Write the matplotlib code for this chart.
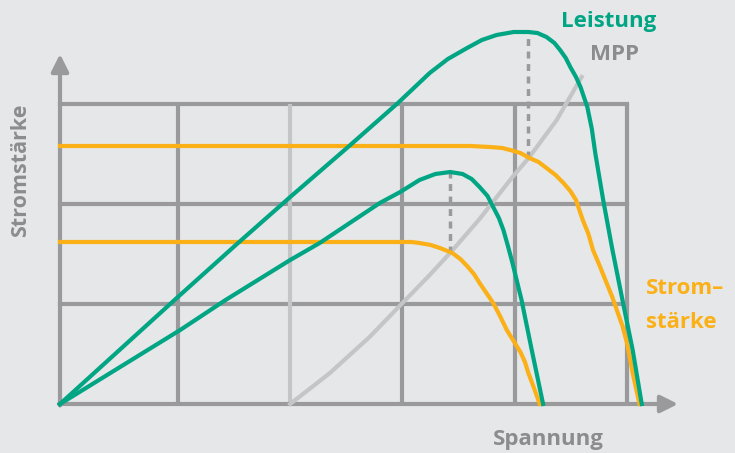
import matplotlib
matplotlib.use("Agg")
from matplotlib import pyplot as plt

# curves (x = Spannung, y = Stromstaerke / Leistung)
p1_x = [0, 1.01, 1.57, 2.03, 2.54, 2.98, 3.26, 3.42, 3.59, 3.72, 3.85, 4.00, 4.13, 4.21, 4.29, 4.36,
        4.41, 4.46, 4.50, 4.55, 4.59, 4.62, 4.65, 4.69, 4.72, 4.79, 4.87, 4.96, 5.05, 5.13]
p1_y = [0, 1.04, 1.61, 2.07, 2.57, 3.01, 3.31, 3.45, 3.56, 3.64, 3.69, 3.72, 3.72, 3.71, 3.67, 3.61,
        3.54, 3.46, 3.37, 3.27, 3.17, 3.07, 2.97, 2.75, 2.51, 2.04, 1.55, 1.04, 0.54, 0]

p2_x = [0, 1.06, 1.46, 2.03, 2.29, 2.82, 3.00, 3.17, 3.31, 3.44, 3.55, 3.63, 3.70, 3.77, 3.82,
        3.87, 3.91, 3.95, 3.99, 4.07, 4.16, 4.26]
p2_y = [0, 0.74, 1.04, 1.44, 1.61, 2.01, 2.12, 2.24, 2.30, 2.32, 2.30, 2.25, 2.17, 2.08, 1.97,
        1.86, 1.74, 1.58, 1.41, 1.04, 0.54, 0]

i1_x = [0, 3.62, 3.79, 3.90, 3.97, 4.06, 4.14, 4.22, 4.29, 4.37, 4.44, 4.50, 4.55, 4.61, 4.66,
        4.70, 4.76, 4.82, 4.87, 4.91, 4.96, 5.00, 5.05, 5.11]
i1_y = [2.58, 2.58, 2.57, 2.56, 2.54, 2.51, 2.46, 2.42, 2.36, 2.29, 2.21, 2.13, 2.04, 1.84, 1.70,
        1.54, 1.38, 1.21, 1.07, 0.94, 0.78, 0.61, 0.31, 0]

i2_x = [0, 3.00, 3.10, 3.17, 3.27, 3.35, 3.46, 3.53, 3.59, 3.65, 3.70, 3.76, 3.82, 3.88, 3.94,
        4.00, 4.06, 4.10, 4.13, 4.18, 4.23]
i2_y = [1.62, 1.62, 1.62, 1.61, 1.59, 1.56, 1.51, 1.45, 1.38, 1.30, 1.21, 1.11, 1.01, 0.88, 0.74,
        0.63, 0.52, 0.42, 0.31, 0.16, 0]

mpp_x = [2.03, 2.38, 2.73, 3.02, 3.26, 3.44, 3.70, 3.99, 4.14, 4.38, 4.60]
mpp_y = [0, 0.31, 0.67, 1.01, 1.29, 1.51, 1.85, 2.27, 2.47, 2.84, 3.27]

# maximum power points: (x, power, current)
peak_x = [4.13, 3.44]
peak_p = [3.72, 2.32]
peak_i = [2.46, 1.51]

grid_x = [1.04, 3.02, 4.01, 5.0]
grid_y = [1, 2, 3]

bg = '#e6e7e8'
grey = '#9a9a9d'
light = '#c4c5c7'
green = '#00a584'
orange = '#fbb017'
text_grey = '#8c8c8f'

W, H = 735, 453
fig = plt.figure(figsize=(W / 100, H / 100), dpi=100, facecolor=bg)
ax = fig.add_axes([0, 0, 1, 1])
ax.set_facecolor(bg)
ax.set_xlim(-60 / 113.4, 675 / 113.4)
ax.set_ylim(-0.49, 4.04)
ax.axis('off')

for gx in grid_x:
    ax.plot([gx, gx], [0, 3], color=grey, lw=3, solid_capstyle='butt', zorder=1)
for gy in grid_y:
    ax.plot([0, 5.0], [gy, gy], color=grey, lw=3, solid_capstyle='projecting', zorder=1)
ax.plot([2.03, 2.03], [0, 3], color=light, lw=3, solid_capstyle='butt', zorder=1)

# axes with arrows
ax.annotate('', xy=(5.45, 0), xytext=(-0.01, 0),
            arrowprops=dict(arrowstyle='-|>', lw=3, color=grey, mutation_scale=26, shrinkA=0, shrinkB=0), zorder=2)
ax.annotate('', xy=(0, 3.5), xytext=(0, -0.015),
            arrowprops=dict(arrowstyle='-|>', lw=3, color=grey, mutation_scale=26, shrinkA=0, shrinkB=0), zorder=2)

ax.plot(mpp_x, mpp_y, color=light, lw=3, zorder=3)
for x, p, i in zip(peak_x, peak_p, peak_i):
    ax.plot([x, x], [i, p], color=grey, lw=2.5, dashes=(2, 1.6), zorder=3)

ax.plot(i1_x, i1_y, color=orange, lw=3, zorder=4, solid_joinstyle='round')
ax.plot(i2_x, i2_y, color=orange, lw=3, zorder=4, solid_joinstyle='round')
ax.plot(p1_x, p1_y, color=green, lw=3, zorder=5, solid_joinstyle='round')
ax.plot(p2_x, p2_y, color=green, lw=3, zorder=5, solid_joinstyle='round')


def label(x, y, s, color, size=16, **kw):
    # x, y in pixels from the top left corner
    ax.text(x, H - y, s, transform=None, color=color, fontsize=size, fontweight='bold',
            family='Open Sans', va='center', **kw)


label(609, 22, 'Leistung', green, ha='center')
label(615, 55, 'MPP', text_grey, ha='center')
label(646, 288, 'Strom–', orange, ha='left')
label(646, 322, 'stärke', orange, ha='left')
label(548, 439, 'Spannung', text_grey, ha='center')
label(21, 170, 'Stromstärke', text_grey, size=15.5, ha='center', rotation=90)

fig.savefig('out.png', dpi=100, facecolor=bg)
